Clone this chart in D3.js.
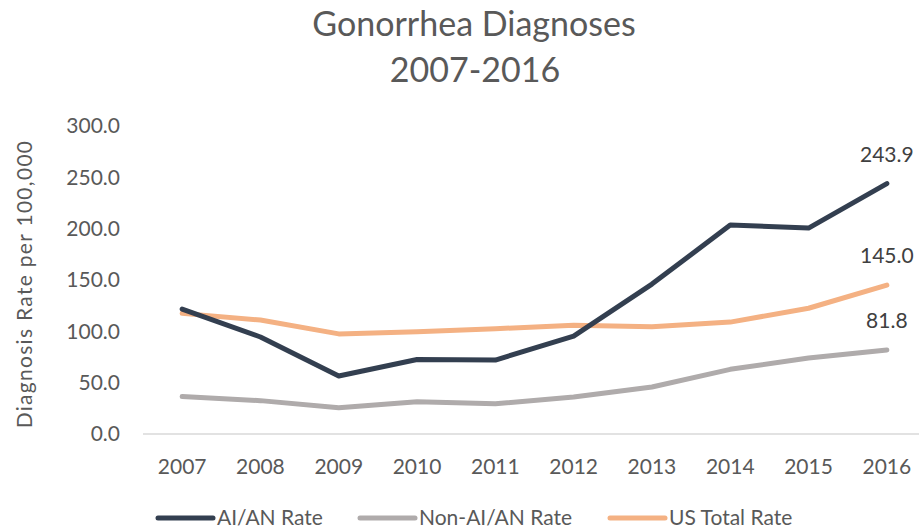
<!DOCTYPE html>
<html>
<head>
<meta charset="utf-8">
<script src="https://cdn.jsdelivr.net/npm/d3@7"></script>
<style>
  body { margin: 0; background: #fff; }
  text { font-family: Lato, "Open Sans", sans-serif; fill: #595959; }
</style>
</head>
<body>
<div id="chart"></div>
<script>
(function() {
  'use strict'

  // Data //
  var years = ["2007","2008","2009","2010","2011","2012","2013","2014","2015","2016"]
  var aianRate = [121.7, 94.5, 56.5, 72.5, 72.0, 95.4, 146.0, 203.5, 200.6, 243.9]
  var nonAianRate = [36.5, 32.5, 25.5, 31.5, 29.5, 36.0, 45.8, 63.0, 74.0, 81.8]
  var usTotalRate = [117.5, 111.0, 97.5, 99.5, 102.5, 106.0, 104.5, 109.0, 122.5, 145.0]
  var seriesNames = ["AI/AN Rate", "Non-AI/AN Rate", "US Total Rate"]
  var yTicks = [0, 50, 100, 150, 200, 250, 300]

  var colors = ["#333f50", "#afabab", "#f4b183"]
  var series = [aianRate, nonAianRate, usTotalRate]

  // SVG Setup //
  var width = 919,
    height = 532

  var svg = d3.select("#chart").append("svg")
    .attr("width", width)
    .attr("height", height)

  var x = d3.scaleBand()
    .domain(years)
    .range([143, 926])

  var y = d3.scaleLinear()
    .domain([0, 300])
    .range([434, 126])

  // Title //
  svg.append("text")
    .attr("x", 474).attr("y", 36)
    .attr("text-anchor", "middle")
    .style("font-size", "34px")
    .text("Gonorrhea Diagnoses")
  svg.append("text")
    .attr("x", 475).attr("y", 82)
    .attr("text-anchor", "middle")
    .style("font-size", "34px")
    .text("2007-2016")

  // Axes //
  svg.selectAll(".ylab")
    .data(yTicks)
    .enter().append("text")
    .attr("class", "ylab")
    .attr("x", 120)
    .attr("y", function(d) { return y(d) })
    .attr("dy", "0.35em")
    .attr("text-anchor", "end")
    .style("font-size", "21px")
    .text(function(d) { return d3.format(".1f")(d) })

  svg.append("line")
    .attr("x1", 143).attr("x2", 919)
    .attr("y1", y(0)).attr("y2", y(0))
    .style("stroke", "#d9d9d9")
    .style("stroke-width", 1.5)

  svg.selectAll(".xlab")
    .data(years)
    .enter().append("text")
    .attr("class", "xlab")
    .attr("x", function(d) { return x(d) + x.bandwidth() / 2 })
    .attr("y", 467)
    .attr("dy", "0.35em")
    .attr("text-anchor", "middle")
    .style("font-size", "21px")
    .text(function(d) { return d })

  svg.append("text")
    .attr("transform", "translate(25,284) rotate(-90)")
    .attr("text-anchor", "middle")
    .attr("dy", "0.35em")
    .style("font-size", "21px")
    .style("letter-spacing", "1.3px")
    .text("Diagnosis Rate per 100,000")

  // Lines //
  var line = d3.line()
    .x(function(d, i) { return x(years[i]) + x.bandwidth() / 2 })
    .y(function(d) { return y(d) })

  var order = [1, 2, 0]
  order.forEach(function(k) {
    svg.append("path")
      .datum(series[k])
      .attr("d", line)
      .style("fill", "none")
      .style("stroke", colors[k])
      .style("stroke-width", 5)
      .style("stroke-linecap", "round")
      .style("stroke-linejoin", "round")
  })

  // End labels //
  series.forEach(function(s) {
    var last = s.length - 1
    svg.append("text")
      .attr("x", x(years[last]) + x.bandwidth() / 2)
      .attr("y", y(s[last]) - 22)
      .attr("text-anchor", "middle")
      .style("font-size", "21px")
      .style("fill", "#404040")
      .text(d3.format(".1f")(s[last]))
  })

  // Legend //
  var legendX = [158, 360, 610]
  seriesNames.forEach(function(name, i) {
    var g = svg.append("g").attr("transform", "translate(" + legendX[i] + ",518)")
    g.append("line")
      .attr("x1", 0).attr("x2", 55)
      .style("stroke", colors[i])
      .style("stroke-width", 5)
      .style("stroke-linecap", "round")
    g.append("text")
      .attr("x", 59)
      .attr("dy", "0.35em")
      .style("font-size", "21px")
      .text(name)
  })
})()
</script>
</body>
</html>
